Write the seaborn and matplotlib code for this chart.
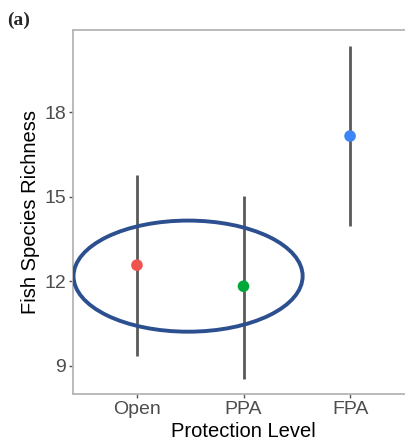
import matplotlib
matplotlib.use("Agg")
import matplotlib.pyplot as plt
from matplotlib.patches import Ellipse
import numpy as np
import pandas as pd
import seaborn as sns

levels = ["Open", "PPA", "FPA"]
richness = [12.57, 11.82, 17.16]
lower = [9.33, 8.54, 13.98]
upper = [15.77, 15.04, 20.36]
colors = ["#F0534C", "#00A83A", "#3D85F5"]
yticks = [9, 12, 15, 18]

df = pd.DataFrame({"level": levels, "richness": richness,
                   "lower": lower, "upper": upper})

sns.set_theme(style="white")
plt.rcParams["font.family"] = ["Liberation Sans", "DejaVu Sans"]

fig = plt.figure(figsize=(4.05, 4.45), dpi=100)
ax = fig.add_axes([73 / 405, 51 / 445, 341 / 405, 364 / 445])

pos = np.arange(len(levels))
ax.vlines(pos, df["lower"], df["upper"], color="#5A5A5A", lw=2, zorder=2)
sns.scatterplot(x=pos, y=df["richness"], hue=df["level"], palette=colors,
                s=70, edgecolor="none", legend=False, ax=ax, zorder=3)

# highlight drawn around Open and PPA
ax.add_patch(Ellipse((0.48, 12.18), 2.15, 3.95, fill=False,
                     edgecolor="#2C4F8F", lw=2.8, zorder=4))

ax.set_xlim(-0.6, 2.6)
ax.set_ylim(7.99, 20.93)
ax.set_xticks(pos)
ax.set_xticklabels(levels)
ax.set_yticks(yticks)
ax.tick_params(axis="both", which="both", length=3, width=1, color="#555555",
               labelcolor="#4D4D4D", labelsize=14, pad=2, left=True, bottom=True)
for s in ax.spines.values():
    s.set_color("#B5B5B5")
    s.set_linewidth(1.3)

ax.set_xlabel("Protection Level", fontsize=14.5, color="black", labelpad=3)
ax.set_ylabel("Fish Species Richness", fontsize=14.5, color="black", labelpad=3)

fig.text(7 / 405, 1 - 25 / 445, "(a)", fontsize=14, fontweight="bold",
         family="Liberation Serif")

fig.savefig("out.png", dpi=100)
